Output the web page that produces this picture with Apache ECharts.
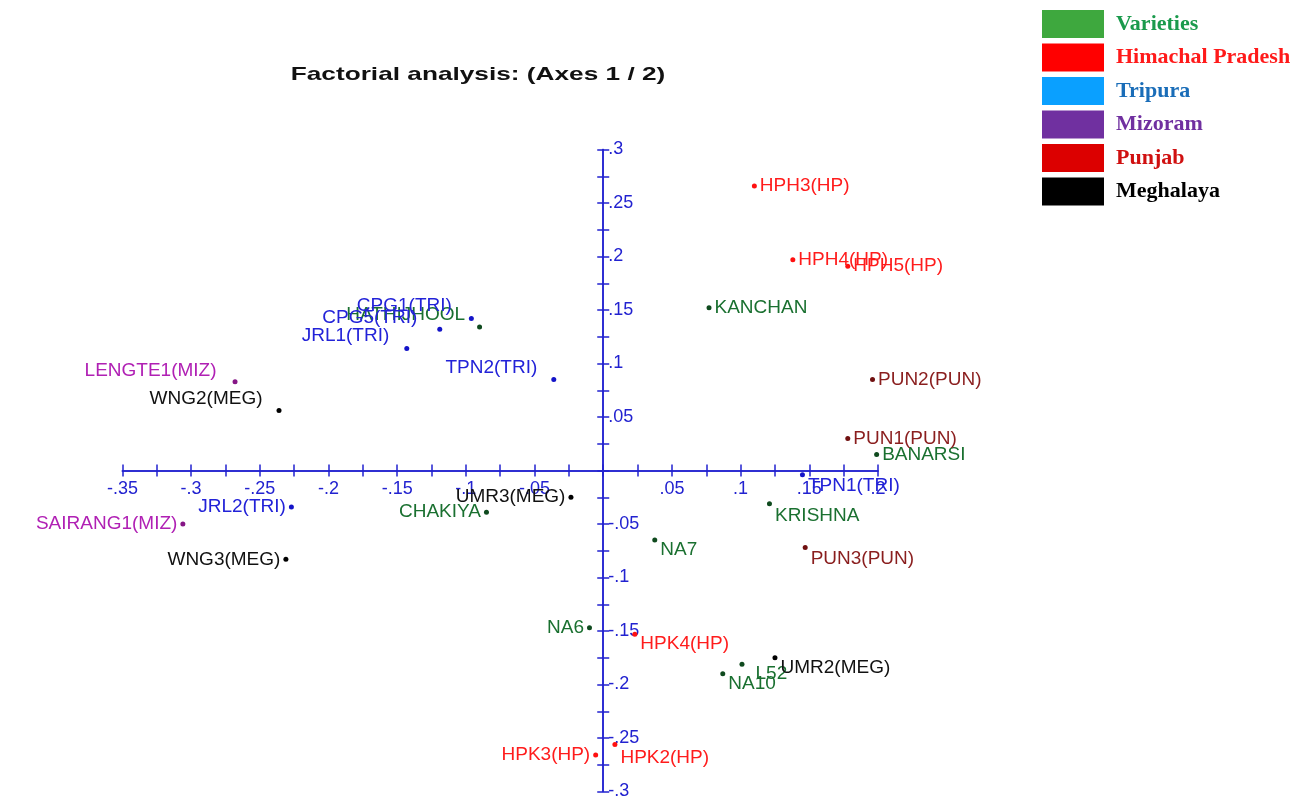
<!DOCTYPE html>
<html>
<head>
<meta charset="utf-8">
<script src="https://cdn.jsdelivr.net/npm/echarts@6/dist/echarts.min.js"></script>
<style>
html,body{margin:0;padding:0;background:#fff;}
#chart{width:1314px;height:803px;}
</style>
</head>
<body>
<div id="chart"></div>
<script>
// ---- data ----
const groupNames = ['Varieties', 'Himachal Pradesh', 'Tripura', 'Mizoram', 'Punjab', 'Meghalaya'];

const varietyNames = ['KANCHAN', 'BANARSI', 'KRISHNA', 'NA7', 'CHAKIYA', 'HATHIJHOOL', 'NA6', 'L52', 'NA10'];
const varietyX = [0.077, 0.199, 0.121, 0.0375, -0.085, -0.090, -0.010, 0.101, 0.087];
const varietyY = [0.152, 0.015, -0.031, -0.065, -0.039, 0.134, -0.147, -0.181, -0.190];

const hpNames = ['HPH3(HP)', 'HPH4(HP)', 'HPH5(HP)', 'HPK4(HP)', 'HPK2(HP)', 'HPK3(HP)'];
const hpX = [0.110, 0.138, 0.178, 0.023, 0.0085, -0.0055];
const hpY = [0.266, 0.197, 0.191, -0.153, -0.256, -0.266];

const triNames = ['TPN1(TRI)', 'JRL2(TRI)', 'TPN2(TRI)', 'JRL1(TRI)', 'CPG5(TRI)', 'CPG1(TRI)'];
const triX = [0.145, -0.227, -0.036, -0.143, -0.119, -0.096];
const triY = [-0.004, -0.034, 0.085, 0.114, 0.132, 0.142];

const mizNames = ['LENGTE1(MIZ)', 'SAIRANG1(MIZ)'];
const mizX = [-0.268, -0.306];
const mizY = [0.083, -0.050];

const punNames = ['PUN2(PUN)', 'PUN1(PUN)', 'PUN3(PUN)'];
const punX = [0.196, 0.178, 0.147];
const punY = [0.085, 0.030, -0.072];

const megNames = ['UMR3(MEG)', 'WNG2(MEG)', 'WNG3(MEG)', 'UMR2(MEG)'];
const megX = [-0.0235, -0.236, -0.231, 0.125];
const megY = [-0.025, 0.056, -0.083, -0.175];

// axis extents
const X_MIN = -0.35, X_MAX = 0.2, Y_MIN = -0.3, Y_MAX = 0.3, STEP = 0.025;

// ---- label placement (layout, not data) ----
const placement = {
  'KANCHAN': ['right', 0, 0], 'BANARSI': ['right', 0, 0], 'KRISHNA': ['right', 0, 12],
  'NA7': ['right', 0, 10], 'CHAKIYA': ['left', 0, 0], 'HATHIJHOOL': ['left', -9, -12],
  'NA6': ['left', 0, 0], 'L52': ['right', 8, 10], 'NA10': ['right', 0, 10],
  'HPH3(HP)': ['right', 0, 0], 'HPH4(HP)': ['right', 0, 0], 'HPH5(HP)': ['right', 0, 0],
  'HPK4(HP)': ['right', 0, 10], 'HPK2(HP)': ['right', 0, 13], 'HPK3(HP)': ['left', 0, 0],
  'TPN1(TRI)': ['right', 0, 11], 'JRL2(TRI)': ['left', 0, 0], 'TPN2(TRI)': ['left', -11, -12],
  'JRL1(TRI)': ['left', -12, -13], 'CPG5(TRI)': ['left', -17, -11], 'CPG1(TRI)': ['left', -14, -13],
  'LENGTE1(MIZ)': ['left', -13, -11], 'SAIRANG1(MIZ)': ['left', 0, 0],
  'PUN2(PUN)': ['right', 0, 0], 'PUN1(PUN)': ['right', 0, 0], 'PUN3(PUN)': ['right', 0, 11],
  'UMR3(MEG)': ['left', 0, 0], 'WNG2(MEG)': ['left', -11, -12], 'WNG3(MEG)': ['left', 0, 0],
  'UMR2(MEG)': ['right', 0, 10]
};

const groups = [
  {names: varietyNames, xs: varietyX, ys: varietyY, dot: '#0f4a1e', text: '#1a7030'},
  {names: hpNames, xs: hpX, ys: hpY, dot: '#ff1010', text: '#ff1c1c'},
  {names: triNames, xs: triX, ys: triY, dot: '#1414c8', text: '#2222d8'},
  {names: mizNames, xs: mizX, ys: mizY, dot: '#861686', text: '#b020b4'},
  {names: punNames, xs: punX, ys: punY, dot: '#701010', text: '#8a1e1e'},
  {names: megNames, xs: megX, ys: megY, dot: '#000000', text: '#111111'}
];

const legendRect = ['#3ea83e', '#ff0000', '#0aa0ff', '#7030a0', '#dc0000', '#000000'];
const legendText = ['#1a9a4c', '#ff1a1a', '#1a6db8', '#7030a0', '#d01010', '#000000'];

const AXIS = '#2222d0';

// grid geometry
const G_LEFT = 122.4, G_RIGHT = 436, G_TOP = 149.5, G_BOTTOM = 11.5;
const W = 1314, H = 803;
const gw = W - G_LEFT - G_RIGHT, gh = H - G_TOP - G_BOTTOM;
const zeroX = G_LEFT + (0 - X_MIN) / (X_MAX - X_MIN) * gw;
const zeroY = G_TOP + (Y_MAX - 0) / (Y_MAX - Y_MIN) * gh;

function fmt(value) {
  const k = Math.round(value * 1000);
  if (k === 0 || k % 50 !== 0) return '';
  return String(k / 1000).replace('0.', '.');
}

const series = groups.map((g, gi) => ({
  name: groupNames[gi],
  type: 'scatter',
  xAxisIndex: 0,
  yAxisIndex: 0,
  symbol: 'circle',
  symbolSize: 5,
  itemStyle: {color: g.dot, opacity: 1},
  emphasis: {disabled: true},
  data: g.names.map((n, i) => {
    const p = placement[n] || ['right', 0, 0];
    return {
      name: n,
      value: [g.xs[i], g.ys[i]],
      label: {
        show: true,
        formatter: '{b}',
        position: p[0],
        offset: [p[1], p[2]],
        distance: 3,
        color: g.text,
        fontSize: 19,
        fontFamily: 'Liberation Sans, Arial, sans-serif'
      }
    };
  })
}));

const tickStyle = {show: true, length: 6, lineStyle: {color: AXIS, width: 1.5}};
const lineStyle = {show: true, onZero: false, lineStyle: {color: AXIS, width: 1.5}};
const labelFont = {color: AXIS, fontSize: 18, fontFamily: 'Liberation Sans, Arial, sans-serif'};

const chart = echarts.init(document.getElementById('chart'), null, {renderer: 'canvas'});
chart.setOption({
  backgroundColor: '#ffffff',
  animation: false,
  grid: {left: G_LEFT, right: G_RIGHT, top: G_TOP, bottom: G_BOTTOM},
  graphic: [{
    type: 'text',
    x: 478, y: 75,
    scaleX: 1.38,
    style: {
      text: 'Factorial analysis: (Axes 1 / 2)',
      fontSize: 19, fontWeight: 'bold',
      fontFamily: 'Liberation Sans, Arial, sans-serif',
      fill: '#111111',
      textAlign: 'center', textVerticalAlign: 'middle',
      align: 'center', verticalAlign: 'middle'
    }
  }],
  legend: {
    orient: 'vertical',
    left: 1042, top: 10,
    padding: 0,
    icon: 'rect',
    itemWidth: 62, itemHeight: 28, itemGap: 5.5,
    selectedMode: false,
    textStyle: {
      fontFamily: 'Liberation Serif, Times New Roman, serif',
      fontWeight: 'bold', fontSize: 22,
      padding: [0, 0, 0, 7]
    },
    data: groupNames.map((n, i) => ({
      name: n,
      itemStyle: {color: legendRect[i], opacity: 1, borderWidth: 0},
      textStyle: {color: legendText[i]}
    }))
  },
  xAxis: [
    {
      type: 'value', min: X_MIN, max: X_MAX, interval: STEP, position: 'bottom',
      offset: -(H - G_BOTTOM - zeroY),
      splitLine: {show: false}, axisLine: lineStyle, axisTick: tickStyle,
      axisLabel: Object.assign({show: true, margin: 10, formatter: fmt, showMinLabel: true, showMaxLabel: true}, labelFont)
    },
    {
      type: 'value', min: X_MIN, max: X_MAX, interval: STEP, position: 'top',
      offset: -(zeroY - G_TOP),
      splitLine: {show: false}, axisLine: lineStyle, axisTick: tickStyle,
      axisLabel: {show: false}
    }
  ],
  yAxis: [
    {
      type: 'value', min: Y_MIN, max: Y_MAX, interval: STEP, position: 'left',
      offset: -(zeroX - G_LEFT),
      splitLine: {show: false}, axisLine: lineStyle, axisTick: tickStyle,
      axisLabel: Object.assign({show: true, inside: true, margin: 5, formatter: fmt, showMinLabel: true, showMaxLabel: true}, labelFont)
    },
    {
      type: 'value', min: Y_MIN, max: Y_MAX, interval: STEP, position: 'right',
      offset: -(W - G_RIGHT - zeroX),
      splitLine: {show: false}, axisLine: lineStyle, axisTick: tickStyle,
      axisLabel: {show: false}
    }
  ],
  series: series
});
</script>
</body>
</html>
